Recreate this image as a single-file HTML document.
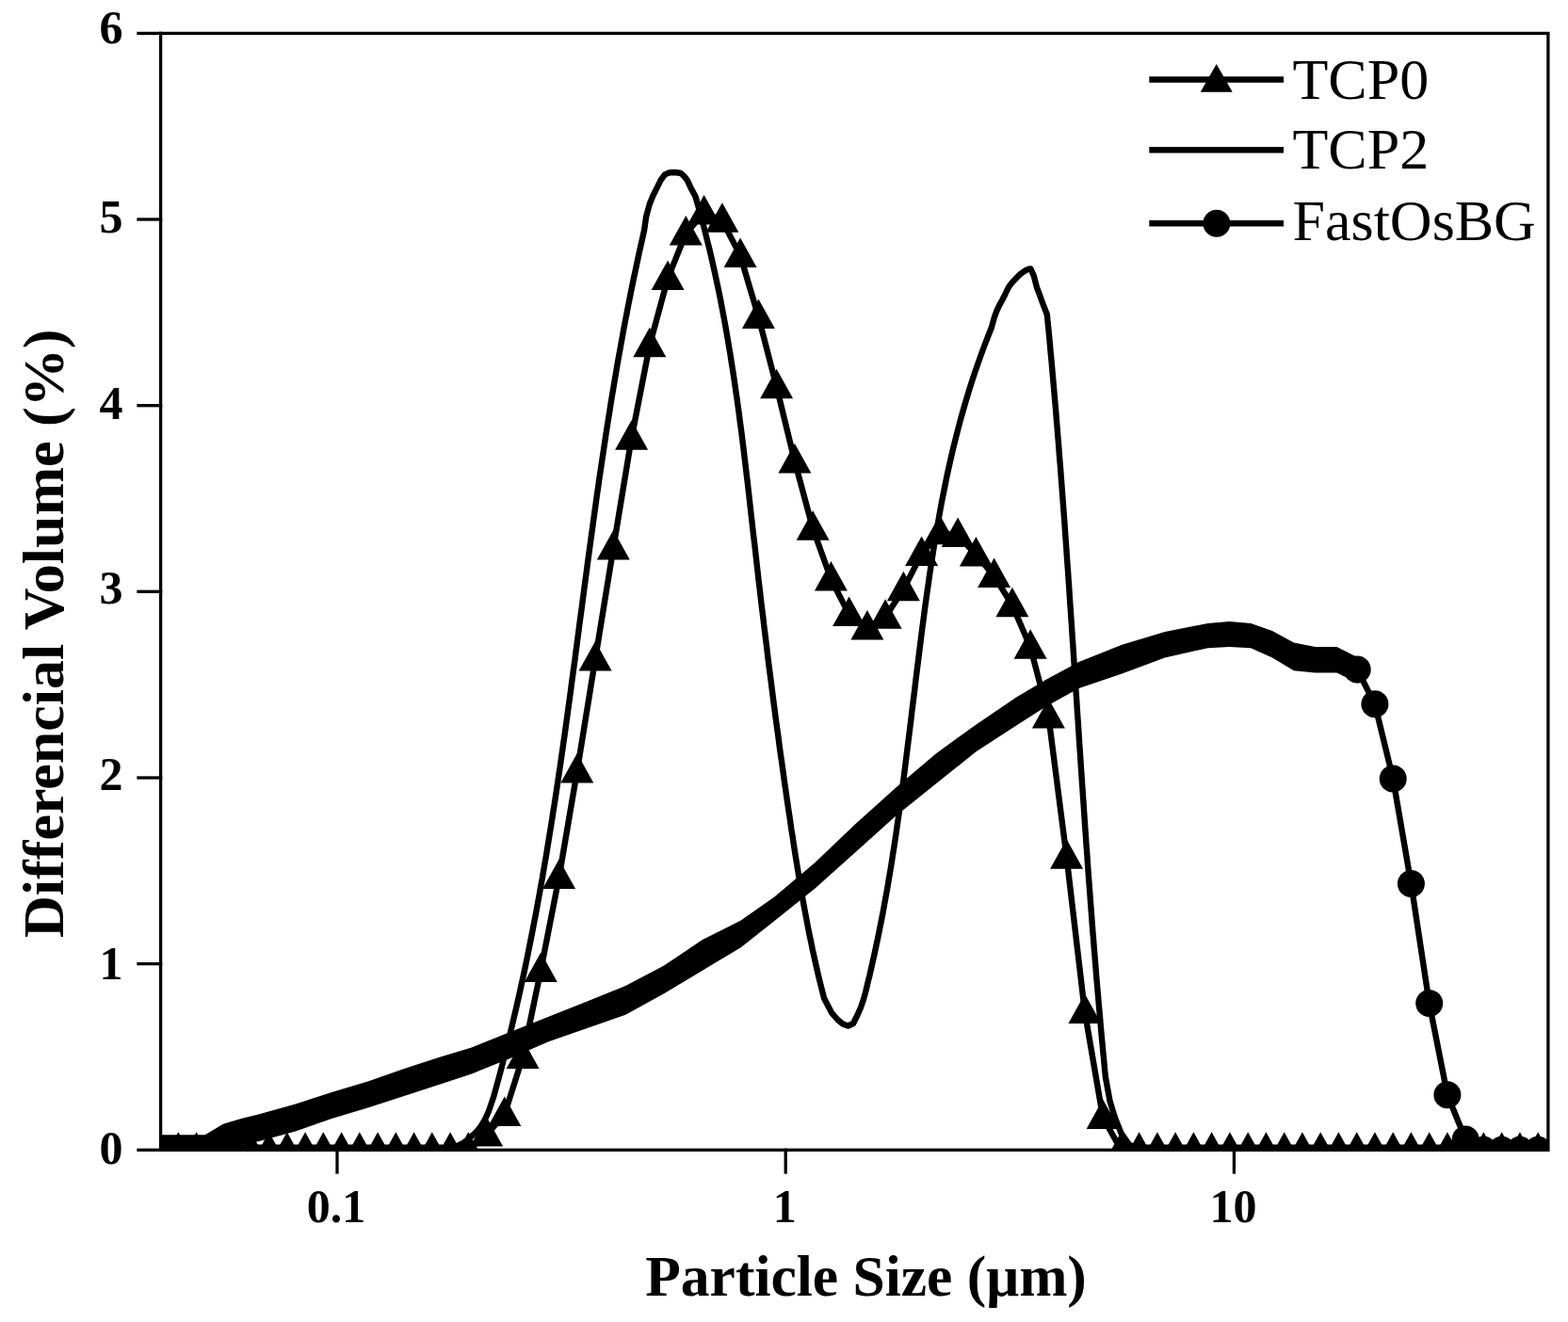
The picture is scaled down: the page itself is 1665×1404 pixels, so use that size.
<!DOCTYPE html>
<html><head><meta charset="utf-8"><title>Particle size distribution</title>
<style>html,body{margin:0;padding:0;background:#fff;}svg{display:block;}</style></head>
<body>
<svg width="1665" height="1404" viewBox="0 0 1665 1404">
<rect width="1665" height="1404" fill="#fff"/>
<defs><clipPath id="c"><rect x="170.6" y="35.4" width="1473.3" height="1187.4"/></clipPath></defs>
<g clip-path="url(#c)" fill="none" stroke="#000" stroke-linejoin="round" stroke-linecap="round">
<polygon fill="#000" stroke="none" points="168.0,1205.3 217.7,1205.3 236.9,1193.8 256.1,1188.0 275.3,1183.2 313.8,1172.6 352.2,1160.1 390.6,1148.6 429.1,1135.1 467.5,1122.6 500.8,1112.4 541.7,1096.0 582.5,1079.7 623.4,1063.4 664.2,1047.0 705.0,1025.6 745.9,998.0 786.7,977.6 822.7,952.2 865.5,915.9 908.2,875.3 951.0,836.8 993.7,800.4 1036.5,769.5 1079.2,740.6 1111.3,721.4 1145.6,703.0 1191.3,684.8 1236.9,671.1 1282.6,662.0 1305.4,660.1 1328.2,662.0 1351.0,669.9 1373.9,682.5 1396.7,687.1 1419.5,687.1 1442.3,698.5 1442.3,725.8 1419.5,714.4 1396.7,714.4 1373.9,712.2 1351.0,698.5 1328.2,688.2 1305.4,687.1 1282.6,688.2 1236.9,698.5 1191.3,715.6 1145.6,731.0 1111.3,750.0 1079.2,770.5 1036.5,798.3 993.7,832.5 951.0,866.7 908.2,905.2 865.5,943.6 822.7,977.8 786.7,1006.2 745.9,1030.7 705.0,1055.2 664.2,1077.7 623.4,1092.0 582.5,1106.2 541.7,1124.0 500.8,1140.5 467.5,1151.5 429.1,1164.0 390.6,1176.5 352.2,1188.0 313.8,1201.4 275.3,1212.0 168.0,1235.0"/>
<polyline points="1441.2,711.0 1459.9,747.8 1479.2,826.9 1498.4,938.5 1517.7,1065.6 1536.9,1162.7 1556.2,1210.0 1575.4,1221.3 1594.7,1221.3 1613.9,1221.3 1633.2,1221.3 1652.4,1221.3" stroke-width="6.4"/>
<g fill="#000" stroke="none"><circle cx="1441.2" cy="711.0" r="14.5"/><circle cx="1459.9" cy="747.8" r="14.5"/><circle cx="1479.2" cy="826.9" r="14.5"/><circle cx="1498.4" cy="938.5" r="14.5"/><circle cx="1517.7" cy="1065.6" r="14.5"/><circle cx="1536.9" cy="1162.7" r="14.5"/><circle cx="1556.2" cy="1210.0" r="14.5"/><circle cx="1575.4" cy="1221.3" r="14.5"/><circle cx="1594.7" cy="1221.3" r="14.5"/><circle cx="1613.9" cy="1221.3" r="14.5"/><circle cx="1633.2" cy="1221.3" r="14.5"/><circle cx="1652.4" cy="1221.3" r="14.5"/></g>
<rect x="160" y="1215.5" width="343.1" height="10" fill="#000" stroke="none"/>
<rect x="1186.5" y="1215.5" width="473.5" height="10" fill="#000" stroke="none"/>
<polyline points="160.0,1221.3 470.0,1221.3 480.0,1219.5 490.0,1215.0 497.0,1210.0 505.0,1203.0 510.0,1197.0 515.0,1189.0 519.0,1180.0 524.1,1165.0 526.3,1157.0 528.5,1149.0 530.7,1141.0 532.8,1133.0 534.9,1125.0 536.9,1117.0 538.9,1109.0 540.9,1101.0 542.8,1093.0 544.7,1085.0 546.6,1077.0 548.5,1069.0 550.3,1061.0 552.1,1053.0 553.8,1045.0 555.6,1037.0 557.3,1029.0 559.0,1021.0 560.6,1013.0 562.2,1005.0 563.8,997.0 565.4,989.0 566.9,981.0 568.5,973.0 570.0,965.0 571.4,957.0 572.9,949.0 574.3,941.0 575.8,933.0 577.1,925.0 578.5,917.0 579.9,909.0 581.2,901.0 582.5,893.0 583.8,885.0 585.1,877.0 586.4,869.0 587.6,861.0 588.9,853.0 590.1,845.0 591.3,837.0 592.5,829.0 593.7,821.0 594.9,813.0 596.0,805.0 597.2,797.0 598.3,789.0 599.5,781.0 600.6,773.0 601.7,765.0 602.8,757.0 603.9,749.0 605.0,741.0 606.1,733.0 607.1,725.0 608.2,717.0 609.3,709.0 610.4,701.0 611.4,693.0 612.5,685.0 613.5,677.0 614.6,669.0 615.6,661.0 616.7,653.0 617.8,645.0 618.8,637.0 619.9,629.0 620.9,621.0 622.0,613.0 623.1,605.0 624.1,597.0 625.2,589.0 626.3,581.0 627.4,573.0 628.5,565.0 629.6,557.0 630.7,549.0 631.8,541.0 632.9,533.0 634.0,525.0 635.2,517.0 636.3,509.0 637.5,501.0 638.7,493.0 639.9,485.0 641.1,477.0 642.3,469.0 643.5,461.0 644.7,453.0 646.0,445.0 647.3,437.0 648.5,429.0 649.8,421.0 651.2,413.0 652.5,405.0 653.9,397.0 655.2,389.0 656.6,381.0 658.1,373.0 659.5,365.0 661.0,357.0 662.4,349.0 663.9,341.0 665.5,333.0 667.0,325.0 668.6,317.0 670.2,309.0 671.8,301.0 673.5,293.0 675.2,285.0 676.9,277.0 678.6,269.0 680.4,261.0 682.2,253.0 684.0,245.0 686.2,229.8 689.7,217.0 693.1,208.5 697.4,199.9 701.6,191.4 705.9,185.4 711.0,183.2 717.0,183.0 723.0,184.0 726.4,187.1 729.8,191.4 733.7,199.9 738.4,208.5 740.7,216.5 743.0,224.5 745.1,232.5 747.3,240.5 749.3,248.5 751.3,256.5 753.3,264.5 755.2,272.5 757.0,280.5 758.8,288.5 760.5,296.5 762.2,304.5 763.9,312.5 765.5,320.5 767.0,328.5 768.5,336.5 770.0,344.5 771.4,352.5 772.8,360.5 774.1,368.5 775.5,376.5 776.7,384.5 778.0,392.5 779.2,400.5 780.4,408.5 781.5,416.5 782.7,424.5 783.8,432.5 784.9,440.5 785.9,448.5 787.0,456.5 788.0,464.5 789.0,472.5 790.0,480.5 790.9,488.5 791.9,496.5 792.8,504.5 793.8,512.5 794.7,520.5 795.6,528.5 796.5,536.5 797.4,544.5 798.3,552.5 799.2,560.5 800.1,568.5 801.1,576.5 802.0,584.5 802.9,592.5 803.8,600.5 804.7,608.5 805.6,616.5 806.6,624.5 807.5,632.5 808.4,640.5 809.4,648.5 810.4,656.5 811.3,664.5 812.3,672.5 813.3,680.5 814.3,688.5 815.2,696.5 816.2,704.5 817.2,712.5 818.3,720.5 819.3,728.5 820.3,736.5 821.3,744.5 822.4,752.5 823.4,760.5 824.5,768.5 825.6,776.5 826.7,784.5 827.7,792.5 828.8,800.5 830.0,808.5 831.1,816.5 832.2,824.5 833.3,832.5 834.5,840.5 835.6,848.5 836.8,856.5 838.0,864.5 839.2,872.5 840.3,880.5 841.6,888.5 842.8,896.5 844.0,904.5 845.3,912.5 846.6,920.5 847.9,928.5 849.2,936.5 850.6,944.5 852.0,952.5 853.4,960.5 854.9,968.5 856.4,976.5 857.9,984.5 859.5,992.5 861.2,1000.5 862.8,1008.5 864.6,1016.5 866.4,1024.5 868.2,1032.5 870.1,1040.5 872.1,1048.5 874.1,1056.5 875.1,1060.3 883.3,1075.9 889.5,1083.0 895.0,1087.5 900.5,1089.5 906.0,1087.0 910.5,1078.0 914.0,1070.0 917.4,1060.0 919.5,1052.0 921.4,1044.0 923.4,1036.0 925.2,1028.0 927.0,1020.0 928.8,1012.0 930.5,1004.0 932.2,996.0 933.8,988.0 935.4,980.0 937.0,972.0 938.5,964.0 939.9,956.0 941.4,948.0 942.8,940.0 944.1,932.0 945.5,924.0 946.8,916.0 948.0,908.0 949.3,900.0 950.5,892.0 951.7,884.0 952.8,876.0 954.0,868.0 955.1,860.0 956.2,852.0 957.3,844.0 958.3,836.0 959.4,828.0 960.4,820.0 961.4,812.0 962.4,804.0 963.4,796.0 964.4,788.0 965.4,780.0 966.4,772.0 967.4,764.0 968.3,756.0 969.3,748.0 970.3,740.0 971.3,732.0 972.2,724.0 973.2,716.0 974.2,708.0 975.2,700.0 976.2,692.0 977.2,684.0 978.2,676.0 979.2,668.0 980.3,660.0 981.3,652.0 982.4,644.0 983.5,636.0 984.6,628.0 985.8,620.0 986.9,612.0 988.1,604.0 989.3,596.0 990.6,588.0 991.8,580.0 993.1,572.0 994.5,564.0 995.9,556.0 997.3,548.0 998.7,540.0 1000.2,532.0 1001.8,524.0 1003.4,516.0 1005.0,508.0 1006.7,500.0 1008.5,492.0 1010.3,484.0 1012.2,476.0 1014.2,468.0 1016.2,460.0 1018.3,452.0 1020.4,444.0 1022.7,436.0 1025.0,428.0 1027.4,420.0 1029.8,412.0 1032.4,404.0 1035.0,396.0 1037.8,388.0 1040.6,380.0 1043.5,372.0 1046.5,364.0 1049.6,356.0 1052.8,348.0 1055.9,336.8 1058.3,330.3 1061.3,323.9 1064.3,318.5 1066.9,313.5 1069.0,309.0 1071.2,304.6 1075.2,299.4 1079.5,295.1 1083.8,290.8 1088.3,287.6 1091.5,286.0 1094.5,285.5 1097.8,293.0 1101.0,305.3 1104.6,314.9 1108.1,324.5 1111.8,334.0 1112.6,342.0 1113.4,350.0 1114.2,358.0 1114.9,366.0 1115.6,374.0 1116.4,382.0 1117.1,390.0 1117.8,398.0 1118.5,406.0 1119.2,414.0 1119.9,422.0 1120.6,430.0 1121.3,438.0 1121.9,446.0 1122.6,454.0 1123.2,462.0 1123.9,470.0 1124.5,478.0 1125.1,486.0 1125.8,494.0 1126.4,502.0 1127.0,510.0 1127.6,518.0 1128.2,526.0 1128.8,534.0 1129.4,542.0 1130.0,550.0 1130.6,558.0 1131.1,566.0 1131.7,574.0 1132.3,582.0 1132.8,590.0 1133.4,598.0 1134.0,606.0 1134.5,614.0 1135.1,622.0 1135.6,630.0 1136.1,638.0 1136.7,646.0 1137.2,654.0 1137.8,662.0 1138.3,670.0 1138.8,678.0 1139.4,686.0 1139.9,694.0 1140.4,702.0 1141.0,710.0 1141.5,718.0 1142.0,726.0 1142.5,734.0 1143.1,742.0 1143.6,750.0 1144.1,758.0 1144.7,766.0 1145.2,774.0 1145.7,782.0 1146.2,790.0 1146.8,798.0 1147.3,806.0 1147.8,814.0 1148.4,822.0 1148.9,830.0 1149.5,838.0 1150.0,846.0 1150.6,854.0 1151.1,862.0 1151.7,870.0 1152.2,878.0 1152.8,886.0 1153.3,894.0 1153.9,902.0 1154.5,910.0 1155.0,918.0 1155.6,926.0 1156.2,934.0 1156.8,942.0 1157.4,950.0 1158.0,958.0 1158.6,966.0 1159.2,974.0 1159.8,982.0 1160.4,990.0 1161.1,998.0 1161.7,1006.0 1162.4,1014.0 1163.0,1022.0 1163.7,1030.0 1164.3,1038.0 1165.0,1046.0 1165.7,1054.0 1166.4,1062.0 1167.1,1070.0 1167.8,1078.0 1168.5,1086.0 1169.2,1094.0 1169.9,1102.0 1170.7,1110.0 1171.4,1118.0 1172.2,1126.0 1172.9,1134.0 1173.7,1142.0 1173.9,1143.8 1178.6,1169.5 1183.8,1186.6 1190.6,1203.7 1199.0,1215.6 1210.0,1221.3 1660.0,1221.3" stroke-width="6.4"/>
<polyline points="170.1,1221.3 189.3,1221.3 208.6,1221.3 227.8,1221.3 247.1,1221.3 266.3,1221.3 285.6,1221.3 304.8,1221.3 324.1,1221.3 343.3,1221.3 362.6,1221.3 381.8,1221.3 401.1,1221.3 420.3,1221.3 439.6,1221.3 458.8,1221.3 478.1,1221.3 497.3,1221.3 516.6,1205.0 535.8,1183.4 555.1,1122.5 574.3,1030.4 593.6,931.6 612.8,819.1 632.1,699.9 651.3,581.9 670.6,465.3 689.8,366.8 709.1,295.6 728.3,248.0 747.6,226.0 766.9,234.2 786.1,271.5 805.4,336.5 824.6,410.7 843.9,490.0 863.1,561.2 882.4,615.0 901.6,652.6 920.9,666.9 940.1,655.3 959.4,625.8 978.6,588.4 997.9,565.8 1017.1,568.6 1036.4,589.0 1055.6,611.6 1074.9,642.7 1094.1,687.2 1113.4,760.9 1132.6,910.3 1151.9,1074.6 1171.1,1186.5 1190.4,1221.3 1209.6,1221.3 1228.9,1221.3 1248.1,1221.3 1267.4,1221.3 1286.6,1221.3 1305.9,1221.3 1325.2,1221.3 1344.4,1221.3 1363.7,1221.3 1382.9,1221.3 1402.2,1221.3 1421.4,1221.3 1440.7,1221.3 1459.9,1221.3 1479.2,1221.3 1498.4,1221.3 1517.7,1221.3 1536.9,1221.3 1556.2,1221.3 1575.4,1221.3 1594.7,1221.3 1613.9,1221.3 1633.2,1221.3 1652.4,1221.3" stroke-width="6.4"/>
<path fill="#000" stroke="none" d="M152.6,1233.8L170.1,1202.3L187.6,1233.8ZM171.8,1233.8L189.3,1202.3L206.8,1233.8ZM191.1,1233.8L208.6,1202.3L226.1,1233.8ZM210.3,1233.8L227.8,1202.3L245.3,1233.8ZM229.6,1233.8L247.1,1202.3L264.6,1233.8ZM248.8,1233.8L266.3,1202.3L283.8,1233.8ZM268.1,1233.8L285.6,1202.3L303.1,1233.8ZM287.3,1233.8L304.8,1202.3L322.3,1233.8ZM306.6,1233.8L324.1,1202.3L341.6,1233.8ZM325.8,1233.8L343.3,1202.3L360.8,1233.8ZM345.1,1233.8L362.6,1202.3L380.1,1233.8ZM364.3,1233.8L381.8,1202.3L399.3,1233.8ZM383.6,1233.8L401.1,1202.3L418.6,1233.8ZM402.8,1233.8L420.3,1202.3L437.8,1233.8ZM422.1,1233.8L439.6,1202.3L457.1,1233.8ZM441.3,1233.8L458.8,1202.3L476.3,1233.8ZM460.6,1233.8L478.1,1202.3L495.6,1233.8ZM479.8,1233.8L497.3,1202.3L514.8,1233.8ZM499.1,1217.5L516.6,1186.0L534.1,1217.5ZM518.3,1195.9L535.8,1164.4L553.3,1195.9ZM537.6,1135.0L555.1,1103.5L572.6,1135.0ZM556.8,1042.9L574.3,1011.4L591.8,1042.9ZM576.1,944.1L593.6,912.6L611.1,944.1ZM595.3,831.6L612.8,800.1L630.3,831.6ZM614.6,712.4L632.1,680.9L649.6,712.4ZM633.8,594.4L651.3,562.9L668.8,594.4ZM653.1,477.8L670.6,446.3L688.1,477.8ZM672.3,379.3L689.8,347.8L707.3,379.3ZM691.6,308.1L709.1,276.6L726.6,308.1ZM710.8,260.5L728.3,229.0L745.8,260.5ZM730.1,238.5L747.6,207.0L765.1,238.5ZM749.4,246.7L766.9,215.2L784.4,246.7ZM768.6,284.0L786.1,252.5L803.6,284.0ZM787.9,349.0L805.4,317.5L822.9,349.0ZM807.1,423.2L824.6,391.7L842.1,423.2ZM826.4,502.5L843.9,471.0L861.4,502.5ZM845.6,573.7L863.1,542.2L880.6,573.7ZM864.9,627.5L882.4,596.0L899.9,627.5ZM884.1,665.1L901.6,633.6L919.1,665.1ZM903.4,679.4L920.9,647.9L938.4,679.4ZM922.6,667.8L940.1,636.3L957.6,667.8ZM941.9,638.3L959.4,606.8L976.9,638.3ZM961.1,600.9L978.6,569.4L996.1,600.9ZM980.4,578.3L997.9,546.8L1015.4,578.3ZM999.6,581.1L1017.1,549.6L1034.6,581.1ZM1018.9,601.5L1036.4,570.0L1053.9,601.5ZM1038.1,624.1L1055.6,592.6L1073.1,624.1ZM1057.4,655.2L1074.9,623.7L1092.4,655.2ZM1076.6,699.7L1094.1,668.2L1111.6,699.7ZM1095.9,773.4L1113.4,741.9L1130.9,773.4ZM1115.1,922.8L1132.6,891.3L1150.1,922.8ZM1134.4,1087.1L1151.9,1055.6L1169.4,1087.1ZM1153.6,1199.0L1171.1,1167.5L1188.6,1199.0ZM1172.9,1233.8L1190.4,1202.3L1207.9,1233.8ZM1192.1,1233.8L1209.6,1202.3L1227.1,1233.8ZM1211.4,1233.8L1228.9,1202.3L1246.4,1233.8ZM1230.6,1233.8L1248.1,1202.3L1265.6,1233.8ZM1249.9,1233.8L1267.4,1202.3L1284.9,1233.8ZM1269.1,1233.8L1286.6,1202.3L1304.1,1233.8ZM1288.4,1233.8L1305.9,1202.3L1323.4,1233.8ZM1307.7,1233.8L1325.2,1202.3L1342.7,1233.8ZM1326.9,1233.8L1344.4,1202.3L1361.9,1233.8ZM1346.2,1233.8L1363.7,1202.3L1381.2,1233.8ZM1365.4,1233.8L1382.9,1202.3L1400.4,1233.8ZM1384.7,1233.8L1402.2,1202.3L1419.7,1233.8ZM1403.9,1233.8L1421.4,1202.3L1438.9,1233.8ZM1423.2,1233.8L1440.7,1202.3L1458.2,1233.8ZM1442.4,1233.8L1459.9,1202.3L1477.4,1233.8ZM1461.7,1233.8L1479.2,1202.3L1496.7,1233.8ZM1480.9,1233.8L1498.4,1202.3L1515.9,1233.8ZM1500.2,1233.8L1517.7,1202.3L1535.2,1233.8ZM1519.4,1233.8L1536.9,1202.3L1554.4,1233.8ZM1538.7,1233.8L1556.2,1202.3L1573.7,1233.8ZM1557.9,1233.8L1575.4,1202.3L1592.9,1233.8ZM1577.2,1233.8L1594.7,1202.3L1612.2,1233.8ZM1596.4,1233.8L1613.9,1202.3L1631.4,1233.8ZM1615.7,1233.8L1633.2,1202.3L1650.7,1233.8ZM1634.9,1233.8L1652.4,1202.3L1669.9,1233.8Z"/>
</g>
<g stroke="#000" stroke-width="3.3" fill="none" stroke-linecap="square">
<rect x="170.6" y="35.4" width="1473.3" height="1185.9"/>
<line x1="147" y1="1221.3" x2="170.6" y2="1221.3"/>
<line x1="147" y1="1023.6" x2="170.6" y2="1023.6"/>
<line x1="147" y1="826.0" x2="170.6" y2="826.0"/>
<line x1="147" y1="628.3" x2="170.6" y2="628.3"/>
<line x1="147" y1="430.7" x2="170.6" y2="430.7"/>
<line x1="147" y1="233.0" x2="170.6" y2="233.0"/>
<line x1="147" y1="35.4" x2="170.6" y2="35.4"/>
<line x1="358.0" y1="1221.3" x2="358.0" y2="1245"/>
<line x1="834.2" y1="1221.3" x2="834.2" y2="1245"/>
<line x1="1310.4" y1="1221.3" x2="1310.4" y2="1245"/>
</g>
<g font-family="'Liberation Serif', serif" font-weight="bold" font-size="50" fill="#000">
<text x="118" y="1236.3" text-anchor="middle">0</text>
<text x="118" y="1039.6" text-anchor="middle">1</text>
<text x="118" y="838.8" text-anchor="middle">2</text>
<text x="118" y="641.2" text-anchor="middle">3</text>
<text x="118" y="444.8" text-anchor="middle">4</text>
<text x="118" y="247.0" text-anchor="middle">5</text>
<text x="118" y="46.3" text-anchor="middle">6</text>
</g>
<g font-family="'Liberation Serif', serif" font-weight="bold" font-size="50" fill="#000">
<text x="357.0" y="1297.5" text-anchor="middle">0.1</text>
<text x="833.2" y="1297.5" text-anchor="middle">1</text>
<text x="1309.4" y="1297.5" text-anchor="middle">10</text>
</g>
<text font-family="'Liberation Serif', serif" font-weight="bold" font-size="61.5" x="685.3" y="1375.5">Particle Size (μm)</text>
<text font-family="'Liberation Serif', serif" font-weight="bold" font-size="62" transform="translate(67.3,995.9) rotate(-90)" x="0" y="0">Differencial Volume (%)</text>
<g stroke="#000" stroke-width="6.5">
<line x1="1220.3" y1="84.4" x2="1363" y2="84.4"/>
<line x1="1220.3" y1="159.3" x2="1363" y2="159.3"/>
<line x1="1220.3" y1="237.2" x2="1363" y2="237.2"/>
</g>
<path fill="#000" d="M1274.7,97.7L1291.7,67.9L1308.7,97.7Z"/>
<circle cx="1291.9" cy="237.2" r="14.5" fill="#000"/>
<g font-family="'Liberation Serif', serif" font-size="62" fill="#000">
<text x="1372.5" y="105">TCP0</text>
<text x="1372.5" y="179">TCP2</text>
<text x="1372.5" y="254.5">FastOsBG</text>
</g>
</svg>
</body></html>
